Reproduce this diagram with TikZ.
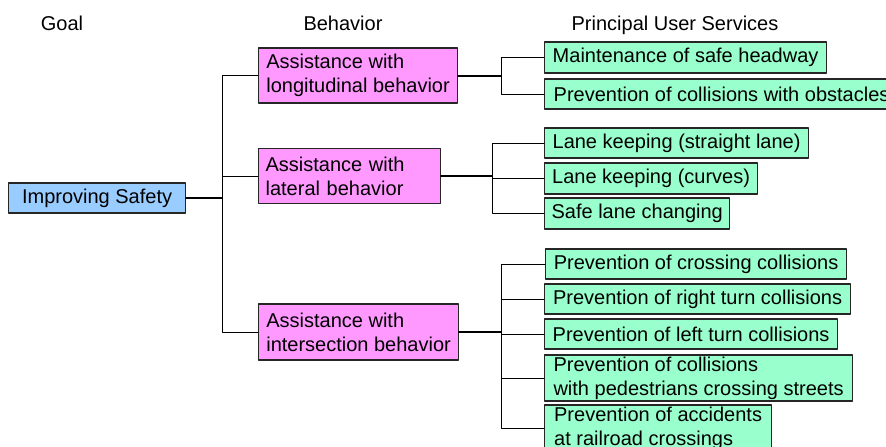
\documentclass[tikz,border=0pt]{standalone}
\usepackage{fontspec}
\setmainfont{Liberation Sans}
\definecolor{goalblue}{HTML}{99CCFF}
\definecolor{behpink}{HTML}{FF99FF}
\definecolor{servgreen}{HTML}{99FFCC}
\begin{document}
\begin{tikzpicture}[x=1pt,y=-1pt,line join=round,line cap=round,font=\fontsize{20}{24}\selectfont,
		box/.style={draw=black!85,line width=1.2pt,anchor=west,align=left,inner xsep=7pt,inner ysep=0pt},
		goalbox/.style={box,fill=goalblue,align=center},
		behbox/.style={box,fill=behpink},
		servbox/.style={box,fill=servgreen}]
			\useasboundingbox (0,0) rectangle (886,447);
			
			\node[anchor=base] (hG) at (62,30) {Goal};
			\node[anchor=base] (hB) at (343,30) {Behavior};
			\node[anchor=base] (hS) at (675,30) {Principal User Services};
			
			\node[goalbox,minimum width=177pt,minimum height=30pt] (goal) at (8,198) {Improving Safety};
			
			\node[behbox,minimum width=199pt,minimum height=55pt] (lon) at (258,75.5) {Assistance with\\longitudinal behavior};
			\node[behbox,text width=168pt,minimum height=55pt] (lat) at (258,176) {Assistance with\\lateral behavior};
			\node[behbox,minimum width=200pt,minimum height=56pt] (int) at (258,332) {Assistance with\\intersection behavior};
			
			\coordinate (J) at (222,198);
			\coordinate (K) at (501,75.5);
			\coordinate (L) at (492,176);
			\coordinate (M) at (501,332);
			
			\node[servbox,minimum width=282pt,minimum height=31pt] (headway) at (544,57.5) {Maintenance of safe headway};
			\node[servbox,minimum width=354pt,minimum height=30pt] (obst) at (544,94) {Prevention of collisions with obstacles};
			
			\node[servbox,minimum width=264pt,minimum height=30pt] (straight) at (544,143) {Lane keeping (straight lane)};
			\node[servbox,minimum width=213pt,minimum height=31pt] (curves) at (544,178.5) {Lane keeping (curves)};
			\node[servbox,minimum width=185pt,minimum height=31pt] (change) at (544,213.5) {Safe lane changing};
			
			\node[servbox,minimum width=301pt,minimum height=30pt] (cross) at (545,264) {Prevention of crossing collisions};
			\node[servbox,minimum width=306pt,minimum height=30pt] (right) at (544,299) {Prevention of right turn collisions};
			\node[servbox,minimum width=293pt,minimum height=30pt] (left) at (544,334) {Prevention of left turn collisions};
			\node[servbox,minimum width=308pt,minimum height=46pt] (ped) at (544,378) {Prevention of collisions\\with pedestrians crossing streets};
			\node[servbox,minimum width=227pt,minimum height=46pt] (rail) at (544,428) {Prevention of accidents\\at railroad crossings};
			
			\draw[line width=2pt] (goal.east)--(J);
			\draw[line width=1pt] (lon.west)-|(J) (lat.west)-|(J) (int.west)-|(J);
			
			\draw[line width=2pt] (lon.east)--(K);
			\draw[line width=1pt] (headway.west)-|(K) (obst.west)-|(K);
			
			\draw[line width=2pt] (lat.east)--(L);
			\draw[line width=1pt] (straight.west)-|(L) (curves.west)-|(L) (change.west)-|(L);
			
			\draw[line width=2pt] (int.east)--(M);
			\draw[line width=1pt] (cross.west)-|(M) (right.west)-|(M) (left.west)-|(M) (ped.west)-|(M) (rail.west)-|(M);
		\end{tikzpicture}
\end{document}
